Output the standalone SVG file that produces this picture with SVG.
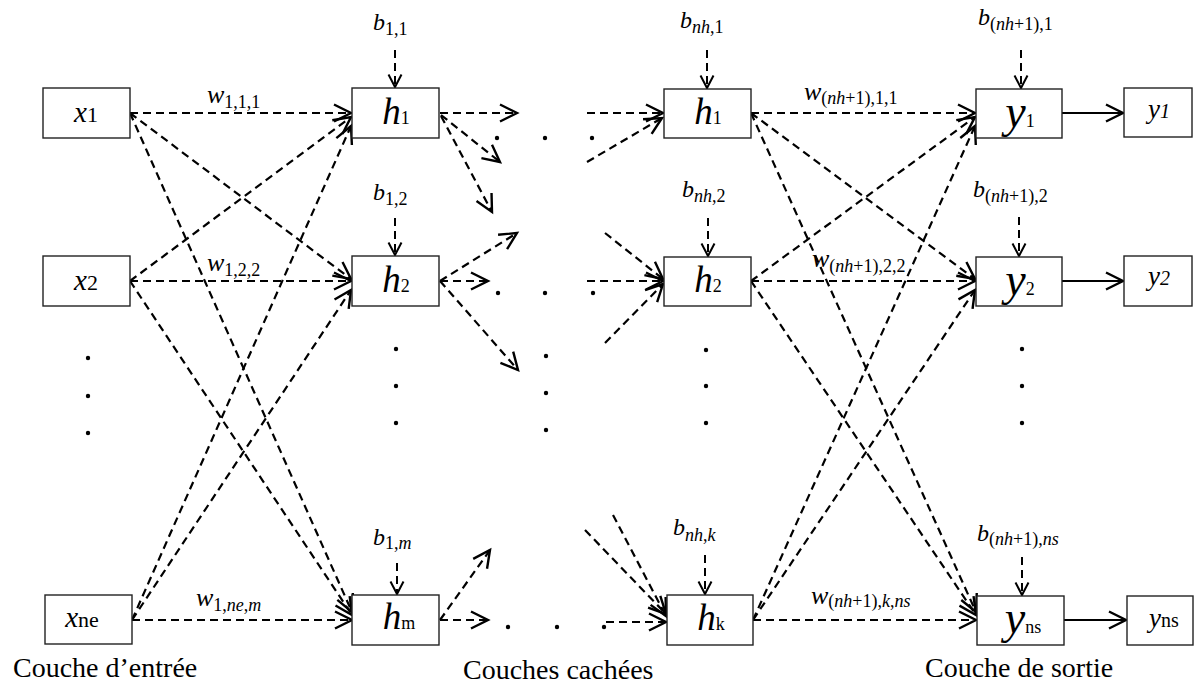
<svg xmlns="http://www.w3.org/2000/svg" width="1197" height="689" viewBox="0 0 1197 689">
<style>
.box{fill:#fff;stroke:#222;stroke-width:1.4}
.dl{fill:none;stroke:#000;stroke-width:2.2;stroke-dasharray:8 5;marker-end:url(#ah)}
.bl{fill:none;stroke:#000;stroke-width:2;stroke-dasharray:8 5;marker-end:url(#ahs)}
.sl{fill:none;stroke:#000;stroke-width:2.2;marker-end:url(#ah)}
text,tspan{font-family:"Liberation Serif","Times New Roman",serif;fill:#000}
.it{font-style:italic}
.cap{font-size:28px}
.bv{font-size:24px;font-style:italic}
.sb{font-size:18px}
.wv{font-size:26px;font-style:italic}
.dot{fill:#000}
</style>
<defs>
<marker id="ah" viewBox="0 0 20 20" refX="18" refY="10" markerWidth="20" markerHeight="20" markerUnits="userSpaceOnUse" orient="auto" overflow="visible">
<path d="M1,1.5 L18,10 L1,18.5" fill="none" stroke="#000" stroke-width="2.4" stroke-dasharray="none"/>
</marker>
<marker id="ahs" viewBox="0 0 16 16" refX="14" refY="8" markerWidth="16" markerHeight="16" markerUnits="userSpaceOnUse" orient="auto" overflow="visible">
<path d="M1.5,1.5 L14,8 L1.5,14.5" fill="none" stroke="#000" stroke-width="2" stroke-dasharray="none"/>
</marker>
</defs>

<g id="connectors">
<line class="dl" x1="130" y1="113" x2="351" y2="113"/>
<line class="dl" x1="130" y1="281" x2="351" y2="117"/>
<line class="dl" x1="132" y1="620" x2="351" y2="126"/>
<line class="dl" x1="130" y1="113" x2="351" y2="279"/>
<line class="dl" x1="130" y1="281" x2="351" y2="281"/>
<line class="dl" x1="132" y1="620" x2="351" y2="290"/>
<line class="dl" x1="130" y1="113" x2="352" y2="612"/>
<line class="dl" x1="130" y1="281" x2="352" y2="615"/>
<line class="dl" x1="132" y1="620" x2="352" y2="620"/>
<line class="dl" x1="440" y1="113" x2="517" y2="113"/>
<line class="dl" x1="441" y1="115" x2="500" y2="162"/>
<line class="dl" x1="441" y1="116" x2="492" y2="212"/>
<line class="dl" x1="440" y1="281" x2="517" y2="233"/>
<line class="dl" x1="440" y1="281" x2="488" y2="281"/>
<line class="dl" x1="440" y1="281" x2="518" y2="370"/>
<line class="dl" x1="440" y1="620" x2="490" y2="550"/>
<line class="dl" x1="440" y1="620" x2="488" y2="620"/>
<line class="dl" x1="587" y1="113" x2="663" y2="113"/>
<line class="dl" x1="587" y1="162" x2="662" y2="118"/>
<line class="dl" x1="605" y1="233" x2="663" y2="279"/>
<line class="dl" x1="587" y1="281" x2="663" y2="281"/>
<line class="dl" x1="605" y1="343" x2="663" y2="284"/>
<line class="dl" x1="585" y1="530" x2="666" y2="614"/>
<line class="dl" x1="613" y1="515" x2="666" y2="616"/>
<line class="dl" x1="606" y1="622" x2="666" y2="622"/>
<line class="dl" x1="751" y1="113" x2="975" y2="113"/>
<line class="dl" x1="751" y1="281" x2="975" y2="117"/>
<line class="dl" x1="753" y1="620" x2="975" y2="126"/>
<line class="dl" x1="751" y1="113" x2="975" y2="279"/>
<line class="dl" x1="751" y1="281" x2="975" y2="281"/>
<line class="dl" x1="753" y1="620" x2="975" y2="290"/>
<line class="dl" x1="751" y1="113" x2="976" y2="612"/>
<line class="dl" x1="751" y1="281" x2="976" y2="615"/>
<line class="dl" x1="753" y1="620" x2="976" y2="620"/>
<line class="sl" x1="1062" y1="113" x2="1123" y2="113"/>
<line class="sl" x1="1062" y1="281" x2="1123" y2="281"/>
<line class="sl" x1="1064" y1="620" x2="1126" y2="620"/>
<line class="bl" x1="395" y1="50" x2="395" y2="87"/>
<line class="bl" x1="395" y1="218" x2="395" y2="255"/>
<line class="bl" x1="397" y1="563" x2="397" y2="594"/>
<line class="bl" x1="707" y1="50" x2="707" y2="88"/>
<line class="bl" x1="708" y1="218" x2="708" y2="256"/>
<line class="bl" x1="705" y1="555" x2="705" y2="594"/>
<line class="bl" x1="1021" y1="50" x2="1021" y2="88"/>
<line class="bl" x1="1019" y1="217" x2="1019" y2="256"/>
<line class="bl" x1="1022" y1="557" x2="1022" y2="595"/>
</g>

<g id="x1"><rect class="box" x="43" y="88" width="87" height="50"/><text x="86" y="122" text-anchor="middle"><tspan class="it" font-size="29">x</tspan><tspan font-size="22">1</tspan></text></g>
<g id="x2"><rect class="box" x="43" y="256" width="87" height="50"/><text x="86" y="290" text-anchor="middle"><tspan class="it" font-size="29">x</tspan><tspan font-size="22">2</tspan></text></g>
<g id="xne"><rect class="box" x="45" y="595" width="87" height="49"/><text x="82" y="627" text-anchor="middle"><tspan class="it" font-size="29">x</tspan><tspan font-size="22">ne</tspan></text></g>

<g id="h1"><rect class="box" x="352" y="88" width="87" height="50"/><text x="396" y="124" text-anchor="middle"><tspan class="it" font-size="37">h</tspan><tspan font-size="18">1</tspan></text></g>
<g id="h2"><rect class="box" x="352" y="256" width="87" height="50"/><text x="396" y="292" text-anchor="middle"><tspan class="it" font-size="37">h</tspan><tspan font-size="18">2</tspan></text></g>
<g id="hm"><rect class="box" x="352" y="595" width="87" height="50"/><text x="399" y="629" text-anchor="middle"><tspan class="it" font-size="37">h</tspan><tspan font-size="18">m</tspan></text></g>

<g id="hnh1"><rect class="box" x="664" y="89" width="87" height="49"/><text x="708" y="124" text-anchor="middle"><tspan class="it" font-size="37">h</tspan><tspan font-size="18">1</tspan></text></g>
<g id="hnh2"><rect class="box" x="664" y="257" width="87" height="49"/><text x="708" y="292" text-anchor="middle"><tspan class="it" font-size="37">h</tspan><tspan font-size="18">2</tspan></text></g>
<g id="hk"><rect class="box" x="667" y="595" width="86" height="50"/><text x="711" y="630" text-anchor="middle"><tspan class="it" font-size="37">h</tspan><tspan font-size="18">k</tspan></text></g>

<g id="y1"><rect class="box" x="976" y="89" width="86" height="49"/><text x="1020" y="127" text-anchor="middle"><tspan class="it" font-size="46">y</tspan><tspan font-size="18">1</tspan></text></g>
<g id="y2"><rect class="box" x="976" y="257" width="86" height="49"/><text x="1020" y="295" text-anchor="middle"><tspan class="it" font-size="46">y</tspan><tspan font-size="18">2</tspan></text></g>
<g id="yns"><rect class="box" x="977" y="596" width="87" height="49"/><text x="1023" y="633" text-anchor="middle"><tspan class="it" font-size="46">y</tspan><tspan font-size="18">ns</tspan></text></g>

<g id="out1"><rect class="box" x="1124" y="88" width="68" height="49"/><text x="1159" y="118" text-anchor="middle" class="it"><tspan font-size="27">y</tspan><tspan font-size="20">1</tspan></text></g>
<g id="out2"><rect class="box" x="1124" y="256" width="68" height="50"/><text x="1159" y="285" text-anchor="middle" class="it"><tspan font-size="27">y</tspan><tspan font-size="20">2</tspan></text></g>
<g id="outns"><rect class="box" x="1127" y="596" width="66" height="49"/><text x="1164" y="627" text-anchor="middle"><tspan class="it" font-size="27">y</tspan><tspan font-size="20">ns</tspan></text></g>

<g id="bias-labels">
<text x="373" y="30"><tspan class="bv">b</tspan><tspan class="sb" dy="5">1,1</tspan></text>
<text x="373" y="200"><tspan class="bv">b</tspan><tspan class="sb" dy="5">1,2</tspan></text>
<text x="373" y="545"><tspan class="bv">b</tspan><tspan class="sb" dy="4">1,<tspan class="it">m</tspan></tspan></text>
<text x="680" y="28"><tspan class="bv">b</tspan><tspan class="sb" dy="5"><tspan class="it">nh</tspan>,1</tspan></text>
<text x="682" y="197"><tspan class="bv">b</tspan><tspan class="sb" dy="5"><tspan class="it">nh</tspan>,2</tspan></text>
<text x="673" y="535"><tspan class="bv">b</tspan><tspan class="sb" dy="6"><tspan class="it">nh</tspan>,<tspan class="it">k</tspan></tspan></text>
<text x="978" y="25"><tspan class="bv">b</tspan><tspan class="sb" dy="5">(<tspan class="it">nh</tspan>+1),1</tspan></text>
<text x="973" y="197"><tspan class="bv">b</tspan><tspan class="sb" dy="5">(<tspan class="it">nh</tspan>+1),2</tspan></text>
<text x="977" y="541"><tspan class="bv">b</tspan><tspan class="sb" dy="4">(<tspan class="it">nh</tspan>+1),<tspan class="it">ns</tspan></tspan></text>
</g>

<g id="weight-labels">
<text x="207" y="103"><tspan class="wv">w</tspan><tspan class="sb" dy="5">1,1,1</tspan></text>
<text x="207" y="271"><tspan class="wv">w</tspan><tspan class="sb" dy="5">1,2,2</tspan></text>
<text x="196" y="606"><tspan class="wv">w</tspan><tspan class="sb" dy="5">1,<tspan class="it">ne</tspan>,<tspan class="it">m</tspan></tspan></text>
<text x="804" y="100"><tspan class="wv">w</tspan><tspan class="sb" dy="4">(<tspan class="it">nh</tspan>+1),1,1</tspan></text>
<text x="812" y="267"><tspan class="wv">w</tspan><tspan class="sb" dy="5">(<tspan class="it">nh</tspan>+1),2,2</tspan></text>
<text x="811" y="604"><tspan class="wv">w</tspan><tspan class="sb" dy="3">(<tspan class="it">nh</tspan>+1),<tspan class="it">k</tspan>,<tspan class="it">ns</tspan></tspan></text>
</g>

<g id="ellipses">
<circle class="dot" cx="88" cy="358" r="2.2"/><circle class="dot" cx="88" cy="396" r="2.2"/><circle class="dot" cx="88" cy="433" r="2.2"/>
<circle class="dot" cx="396" cy="349" r="2.2"/><circle class="dot" cx="396" cy="386" r="2.2"/><circle class="dot" cx="396" cy="423" r="2.2"/>
<circle class="dot" cx="497" cy="138" r="2.2"/><circle class="dot" cx="545" cy="138" r="2.2"/><circle class="dot" cx="592" cy="138" r="2.2"/>
<circle class="dot" cx="498" cy="293" r="2.2"/><circle class="dot" cx="545" cy="293" r="2.2"/><circle class="dot" cx="593" cy="293" r="2.2"/>
<circle class="dot" cx="546" cy="356" r="2.2"/><circle class="dot" cx="546" cy="393" r="2.2"/><circle class="dot" cx="546" cy="430" r="2.2"/>
<circle class="dot" cx="508" cy="627" r="2.2"/><circle class="dot" cx="557" cy="627" r="2.2"/><circle class="dot" cx="604" cy="627" r="2.2"/>
<circle class="dot" cx="706" cy="350" r="2.2"/><circle class="dot" cx="706" cy="386" r="2.2"/><circle class="dot" cx="706" cy="423" r="2.2"/>
<circle class="dot" cx="1022" cy="349" r="2.2"/><circle class="dot" cx="1022" cy="386" r="2.2"/><circle class="dot" cx="1022" cy="423" r="2.2"/>
</g>

<g id="layer-captions">
<text class="cap" x="13" y="677">Couche d’entrée</text>
<text class="cap" x="463" y="679">Couches cachées</text>
<text class="cap" x="925" y="677">Couche de sortie</text>
</g>
</svg>
